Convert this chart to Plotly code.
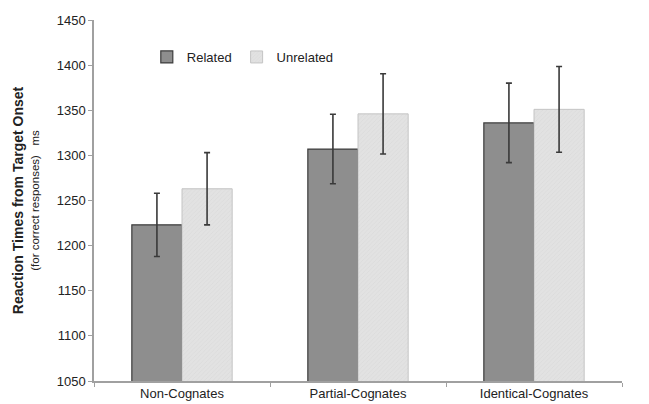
import plotly.graph_objects as go

categories = ["Non-Cognates", "Partial-Cognates", "Identical-Cognates"]
related = [1223, 1307, 1336]
related_err = [35, 38.5, 44]
unrelated = [1263, 1346, 1351]
unrelated_err = [40, 44.5, 47.5]
y_ticks = [1050, 1100, 1150, 1200, 1250, 1300, 1350, 1400, 1450]

fig = go.Figure()
fig.add_trace(go.Bar(
    name="Related", x=categories, y=related,
    marker=dict(color="#8e8e8e", line=dict(color="#3c3c3c", width=1.2)),
    error_y=dict(type="data", array=related_err, color="#3a3a3a", thickness=1.6, width=3),
))
fig.add_trace(go.Bar(
    name="Unrelated", x=categories, y=unrelated,
    marker=dict(color="#dedede", line=dict(color="#c4c4c4", width=1),
                pattern=dict(shape="/", fgcolor="#cfcfcf", bgcolor="#e2e2e2", size=3, solidity=0.2)),
    error_y=dict(type="data", array=unrelated_err, color="#3a3a3a", thickness=1.6, width=3),
))

# the page body has an 8px default margin, so the figure is 8px smaller than the window
fig.update_layout(
    width=641, height=396,
    margin=dict(l=86, r=27, t=12, b=23),
    paper_bgcolor="white", plot_bgcolor="white",
    barmode="group", bargap=0.43, bargroupgap=0,
    font=dict(family="Liberation Sans, Arial", size=13, color="#222222"),
    showlegend=True,
    legend=dict(orientation="h", x=0.10, y=0.8975, xanchor="left", yanchor="middle",
                font=dict(size=13, color="#222222"), bgcolor="rgba(0,0,0,0)",
                itemwidth=30, tracegroupgap=0),
    xaxis=dict(type="category", tickson="boundaries", ticks="outside", ticklen=4,
               tickcolor="#a0a0a0", showline=True, linecolor="#a0a0a0", linewidth=1.5,
               showgrid=False, tickfont=dict(size=13), automargin=False),
    yaxis=dict(range=[1050, 1450], tickvals=y_ticks, ticks="outside", ticklen=4,
               tickcolor="#a0a0a0", showline=True, linecolor="#a0a0a0", linewidth=1.5,
               showgrid=False, zeroline=False, tickfont=dict(size=13), automargin=False,
               title=dict(text="<span style='font-size:14px'><b>Reaction Times from Target Onset</b></span><br><span style='font-size:11.5px'>(for correct responses)&nbsp;&nbsp;&nbsp;ms</span>",
                          font=dict(size=12), standoff=15)),
)

fig.write_html("out.html")
